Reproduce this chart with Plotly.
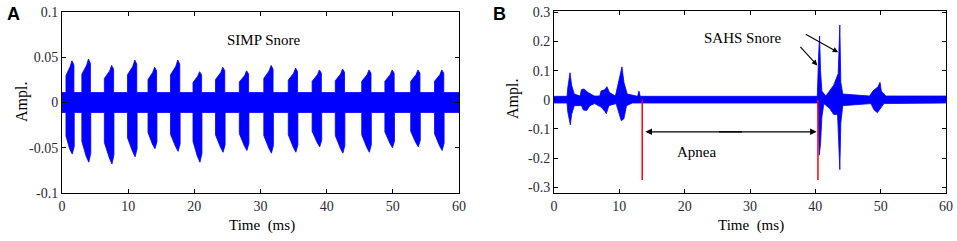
import plotly.graph_objects as go

# ---- panel A: SIMP snore, one entry per snore burst
a_onset = [0.6, 3.0, 6.4, 9.9, 13.0, 16.4, 19.8, 23.2, 26.8, 30.5, 34.2, 37.8, 41.3, 45.3, 48.8, 52.7, 56.3]
a_peak_t = [1.6, 4.1, 7.6, 11.1, 14.1, 17.6, 20.9, 24.4, 28.0, 31.7, 35.4, 39.0, 42.5, 46.5, 50.0, 53.9, 57.5]
a_top = [0.046, 0.048, 0.041, 0.047, 0.039, 0.047, 0.034, 0.039, 0.035, 0.041, 0.038, 0.036, 0.037, 0.036, 0.036, 0.036, 0.036]
a_bot = [-0.057, -0.066, -0.068, -0.060, -0.051, -0.054, -0.066, -0.055, -0.053, -0.056, -0.055, -0.049, -0.056, -0.055, -0.050, -0.049, -0.053]
a_noise = 0.011

# ---- panel B: SAHS snore envelope (time ms, amplitude)
b_up_t = [0, 2.0, 2.1, 2.45, 2.7, 3.1, 4.0, 4.2, 4.6, 5.2, 6.2, 7.0, 7.2, 7.8, 8.1, 8.5, 9.4, 9.7, 10.4, 10.7, 11.2,
          12.8, 13.0, 13.2, 40.3, 40.5, 40.65, 40.8, 41.0, 41.6, 42.2, 42.8, 43.5, 43.75, 43.9, 44.2, 48.3, 48.8, 49.6,
          49.9, 50.1, 50.8, 60]
b_up_v = [0.012, 0.012, 0.04, 0.093, 0.05, 0.02, 0.013, 0.035, 0.037, 0.025, 0.013, 0.013, 0.03, 0.035, 0.045, 0.025,
          0.013, 0.04, 0.113, 0.06, 0.02, 0.012, 0.03, 0.012, 0.012, 0.15, 0.219, 0.10, 0.03, 0.013, 0.03, 0.05, 0.09,
          0.257, 0.06, 0.02, 0.013, 0.03, 0.045, 0.06, 0.03, 0.013, 0.013]
b_lo_t = [0, 2.0, 2.1, 2.5, 2.7, 3.1, 4.2, 4.5, 5.0, 5.5, 6.2, 7.2, 7.8, 8.0, 8.4, 9.5, 9.8, 10.3, 10.7, 11.1, 12.0,
          40.4, 40.6, 40.8, 41.0, 41.3, 42.2, 42.8, 43.4, 43.75, 43.9, 44.2, 48.5, 49.0, 49.5, 49.9, 50.5, 60]
b_lo_v = [-0.011, -0.011, -0.04, -0.086, -0.05, -0.02, -0.02, -0.035, -0.037, -0.02, -0.013, -0.025, -0.04, -0.048,
          -0.02, -0.013, -0.04, -0.072, -0.065, -0.02, -0.011, -0.011, -0.19, -0.15, -0.06, -0.013, -0.03, -0.05,
          -0.05, -0.24, -0.08, -0.02, -0.013, -0.035, -0.044, -0.03, -0.013, -0.011]

apnea_start = 13.5
apnea_end = 40.4
apnea_depth = -0.275

blue = '#0000FF'
serif = 'Liberation Serif'
W, H = 957, 241


def px(x):
    return x / W


def py(y):
    return 1 - y / H


# build panel A outline: upper edge forward, lower edge back
up_x, up_y = [0], [a_noise]
lo_x, lo_y = [0], [-a_noise]
for on, pk, tp, bt in zip(a_onset, a_peak_t, a_top, a_bot):
    up_x += [on, on, pk - 0.4, pk - 0.1, pk + 0.2, pk + 0.2]
    up_y += [a_noise, tp * 0.65, tp * 0.85, tp, tp * 0.9, a_noise]
    lo_x += [on, on, pk - 0.45, pk - 0.05, pk + 0.25, pk + 0.25]
    lo_y += [-a_noise, bt * 0.65, bt * 0.9, bt, bt * 0.85, -a_noise]
up_x.append(60)
up_y.append(a_noise)
lo_x.append(60)
lo_y.append(-a_noise)

fig = go.Figure()
fig.add_trace(go.Scatter(x=up_x + lo_x[::-1], y=up_y + lo_y[::-1], fill='toself', fillcolor=blue,
                         mode='lines', line=dict(color=blue, width=0.8), xaxis='x', yaxis='y',
                         hoverinfo='skip'))
fig.add_trace(go.Scatter(x=b_up_t + b_lo_t[::-1], y=b_up_v + b_lo_v[::-1], fill='toself', fillcolor=blue,
                         mode='lines', line=dict(color=blue, width=0.8), xaxis='x2', yaxis='y2',
                         hoverinfo='skip'))
fig.add_trace(go.Scatter(x=[apnea_start, apnea_start, None, apnea_end, apnea_end],
                         y=[0, apnea_depth, None, 0, apnea_depth], mode='lines',
                         line=dict(color='#FF0000', width=1.5), xaxis='x2', yaxis='y2', hoverinfo='skip'))

axis_common = dict(showline=True, linecolor='black', linewidth=1, mirror='ticks', ticks='inside',
                   ticklen=4, tickcolor='black', showgrid=False, zeroline=False, automargin=False,
                   tickfont=dict(family=serif, size=14, color='#2a2a3a'))

fig.update_layout(
    width=W, height=H, showlegend=False,
    margin=dict(l=0, r=0, t=0, b=0),
    plot_bgcolor='white', paper_bgcolor='white',
    xaxis=dict(domain=[px(62), px(459)], range=[0, 60], tickvals=[0, 10, 20, 30, 40, 50, 60],
               anchor='y', **axis_common),
    yaxis=dict(domain=[py(193), py(12)], range=[-0.1, 0.1], tickvals=[-0.1, -0.05, 0, 0.05, 0.1],
               ticktext=['-0.1', '-0.05', '0', '0.05', '0.1'], anchor='x', **axis_common),
    xaxis2=dict(domain=[px(554), px(946)], range=[0, 60], tickvals=[0, 10, 20, 30, 40, 50, 60],
                anchor='y2', **axis_common),
    yaxis2=dict(domain=[py(193), py(11)], range=[-0.32, 0.305],
                tickvals=[-0.3, -0.2, -0.1, 0, 0.1, 0.2, 0.3],
                ticktext=['-0.3', '-0.2', '-0.1', '0', '0.1', '0.2', '0.3'], anchor='x2', **axis_common),
)

txt = dict(family=serif, size=15, color='black')
c = dict(xanchor='center', yanchor='middle', showarrow=False)
notes = [
    dict(x=px(13), y=py(14), xref='paper', yref='paper', text='<b>A</b>',
         font=dict(family='Liberation Sans', size=18, color='black'), **c),
    dict(x=px(499), y=py(14), xref='paper', yref='paper', text='<b>B</b>',
         font=dict(family='Liberation Sans', size=18, color='black'), **c),
    dict(x=px(22), y=py(102), xref='paper', yref='paper', text='Ampl.', textangle=-90,
         font=dict(family=serif, size=16, color='black'), **c),
    dict(x=px(513), y=py(99), xref='paper', yref='paper', text='Ampl.', textangle=-90,
         font=dict(family=serif, size=16, color='black'), **c),
    dict(x=px(262), y=py(225), xref='paper', yref='paper', text='Time  (ms)', font=txt, **c),
    dict(x=px(751), y=py(225), xref='paper', yref='paper', text='Time  (ms)', font=txt, **c),
    dict(x=30.6, y=0.069, xref='x', yref='y', text='SIMP Snore', font=txt, **c),
    dict(x=28.9, y=0.212, xref='x2', yref='y2', text='SAHS Snore', font=txt, **c),
    dict(x=21.8, y=-0.18, xref='x2', yref='y2', text='Apnea', font=txt, **c),
    # arrows
    dict(x=40.3, y=0.118, ax=37.5, ay=0.187, xref='x2', yref='y2', axref='x2', ayref='y2', text='',
         showarrow=True, arrowhead=2, arrowsize=1, arrowwidth=1.1, arrowcolor='black'),
    dict(x=43.5, y=0.163, ax=38.3, ay=0.228, xref='x2', yref='y2', axref='x2', ayref='y2', text='',
         showarrow=True, arrowhead=2, arrowsize=1, arrowwidth=1.1, arrowcolor='black'),
    dict(x=14.0, y=-0.11, ax=29, ay=-0.11, xref='x2', yref='y2', axref='x2', ayref='y2', text='',
         showarrow=True, arrowhead=2, arrowsize=1, arrowwidth=1.3, arrowcolor='black'),
    dict(x=40.2, y=-0.11, ax=25, ay=-0.11, xref='x2', yref='y2', axref='x2', ayref='y2', text='',
         showarrow=True, arrowhead=2, arrowsize=1, arrowwidth=1.3, arrowcolor='black'),
]
fig.update_layout(annotations=notes)

# page body has a default 8px margin, drop it so pixels line up
fig.write_html("out.html", config={'displayModeBar': False},
               post_script="document.body.style.margin='0px';")
